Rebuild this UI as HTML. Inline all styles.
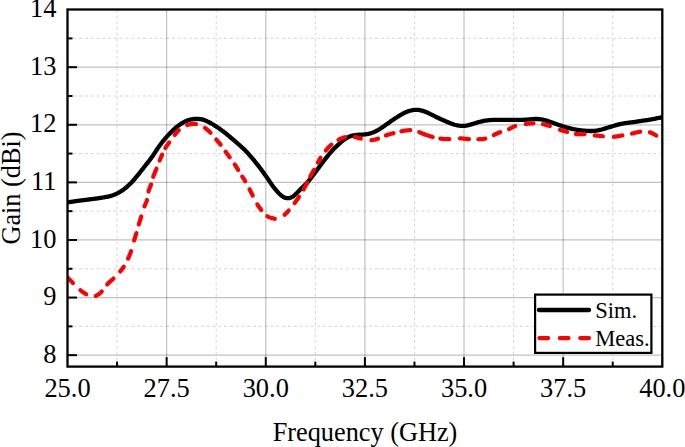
<!DOCTYPE html>
<html><head><meta charset="utf-8"><style>
html,body{margin:0;padding:0;background:#fff;width:685px;height:447px;overflow:hidden}
svg{display:block}
text{font-family:"Liberation Serif",serif;fill:#000}
</style></head><body>
<svg width="685" height="447" viewBox="0 0 685 447">
<g stroke="#d6d6d6" stroke-width="1" stroke-dasharray="3 2.8"><line x1="117.07" y1="9.50" x2="117.07" y2="366.60"/><line x1="216.20" y1="9.50" x2="216.20" y2="366.60"/><line x1="315.33" y1="9.50" x2="315.33" y2="366.60"/><line x1="414.47" y1="9.50" x2="414.47" y2="366.60"/><line x1="513.60" y1="9.50" x2="513.60" y2="366.60"/><line x1="612.73" y1="9.50" x2="612.73" y2="366.60"/><line x1="67.50" y1="326.36" x2="662.30" y2="326.36"/><line x1="67.50" y1="268.77" x2="662.30" y2="268.77"/><line x1="67.50" y1="211.17" x2="662.30" y2="211.17"/><line x1="67.50" y1="153.58" x2="662.30" y2="153.58"/><line x1="67.50" y1="95.99" x2="662.30" y2="95.99"/><line x1="67.50" y1="38.39" x2="662.30" y2="38.39"/></g>
<g stroke="#000" stroke-opacity="0.245" stroke-width="1.2"><line x1="166.63" y1="9.50" x2="166.63" y2="366.60"/><line x1="265.77" y1="9.50" x2="265.77" y2="366.60"/><line x1="364.90" y1="9.50" x2="364.90" y2="366.60"/><line x1="464.03" y1="9.50" x2="464.03" y2="366.60"/><line x1="563.17" y1="9.50" x2="563.17" y2="366.60"/><line x1="67.50" y1="355.16" x2="662.30" y2="355.16"/><line x1="67.50" y1="297.56" x2="662.30" y2="297.56"/><line x1="67.50" y1="239.97" x2="662.30" y2="239.97"/><line x1="67.50" y1="182.38" x2="662.30" y2="182.38"/><line x1="67.50" y1="124.78" x2="662.30" y2="124.78"/><line x1="67.50" y1="67.19" x2="662.30" y2="67.19"/></g>
<defs><clipPath id="pc"><rect x="67.50" y="9.50" width="594.80" height="357.10"/></clipPath></defs>
<g clip-path="url(#pc)">
<path d="M67.40 202.41 L68.39 202.26 L69.38 202.11 L70.37 201.97 L71.35 201.82 L72.34 201.68 L73.33 201.53 L74.32 201.38 L75.31 201.24 L76.29 201.10 L77.28 200.96 L78.27 200.82 L79.26 200.68 L80.25 200.55 L81.24 200.41 L82.23 200.28 L83.22 200.15 L84.21 200.02 L85.20 199.89 L86.19 199.77 L87.18 199.64 L88.17 199.52 L89.17 199.39 L90.16 199.27 L91.15 199.15 L92.14 199.03 L93.13 198.91 L94.12 198.78 L95.11 198.66 L96.10 198.53 L97.09 198.39 L98.08 198.26 L99.07 198.12 L100.06 197.97 L101.05 197.82 L102.04 197.66 L103.03 197.50 L104.01 197.33 L105.00 197.15 L105.98 196.97 L106.96 196.78 L107.94 196.57 L108.91 196.36 L109.88 196.12 L110.84 195.86 L111.79 195.57 L112.73 195.26 L113.67 194.92 L114.60 194.55 L115.51 194.17 L116.42 193.75 L117.32 193.32 L118.21 192.86 L119.08 192.39 L119.95 191.89 L120.81 191.38 L121.65 190.84 L122.48 190.29 L123.30 189.72 L124.11 189.13 L124.90 188.52 L125.68 187.89 L126.44 187.25 L127.19 186.59 L127.94 185.92 L128.67 185.24 L129.39 184.55 L130.10 183.85 L130.80 183.14 L131.50 182.42 L132.18 181.69 L132.86 180.96 L133.53 180.22 L134.19 179.47 L134.85 178.72 L135.50 177.96 L136.14 177.19 L136.78 176.43 L137.41 175.65 L138.04 174.87 L138.66 174.09 L139.28 173.31 L139.90 172.52 L140.51 171.73 L141.12 170.95 L141.74 170.16 L142.35 169.37 L142.97 168.58 L143.59 167.80 L144.20 167.01 L144.82 166.23 L145.45 165.45 L146.07 164.67 L146.69 163.89 L147.31 163.10 L147.93 162.32 L148.54 161.53 L149.15 160.74 L149.76 159.95 L150.36 159.15 L150.95 158.35 L151.54 157.54 L152.12 156.72 L152.69 155.91 L153.25 155.08 L153.81 154.26 L154.37 153.43 L154.91 152.59 L155.46 151.75 L156.00 150.91 L156.54 150.08 L157.09 149.24 L157.64 148.41 L158.20 147.59 L158.78 146.77 L159.36 145.96 L159.95 145.16 L160.55 144.36 L161.15 143.56 L161.76 142.78 L162.38 141.99 L163.00 141.21 L163.63 140.43 L164.26 139.66 L164.90 138.89 L165.55 138.13 L166.21 137.38 L166.87 136.63 L167.54 135.89 L168.21 135.15 L168.90 134.42 L169.59 133.70 L170.28 132.98 L170.98 132.27 L171.69 131.56 L172.40 130.86 L173.12 130.16 L173.85 129.48 L174.59 128.80 L175.34 128.14 L176.10 127.49 L176.86 126.85 L177.64 126.22 L178.43 125.61 L179.24 125.01 L180.05 124.43 L180.88 123.87 L181.72 123.32 L182.57 122.80 L183.43 122.31 L184.31 121.84 L185.21 121.40 L186.12 120.99 L187.04 120.62 L187.98 120.28 L188.93 119.98 L189.89 119.71 L190.86 119.48 L191.84 119.28 L192.83 119.12 L193.82 118.99 L194.82 118.90 L195.81 118.84 L196.81 118.83 L197.81 118.85 L198.80 118.92 L199.78 119.03 L200.76 119.19 L201.73 119.39 L202.70 119.63 L203.65 119.91 L204.59 120.23 L205.52 120.59 L206.44 120.97 L207.35 121.39 L208.25 121.82 L209.14 122.28 L210.02 122.76 L210.90 123.25 L211.77 123.75 L212.63 124.26 L213.49 124.79 L214.34 125.32 L215.19 125.85 L216.03 126.40 L216.86 126.95 L217.70 127.51 L218.52 128.07 L219.35 128.64 L220.16 129.21 L220.98 129.79 L221.79 130.38 L222.59 130.97 L223.39 131.57 L224.18 132.18 L224.97 132.79 L225.75 133.41 L226.53 134.04 L227.30 134.67 L228.07 135.31 L228.84 135.94 L229.60 136.59 L230.37 137.23 L231.13 137.88 L231.89 138.53 L232.65 139.18 L233.41 139.83 L234.16 140.48 L234.92 141.13 L235.68 141.79 L236.43 142.44 L237.19 143.09 L237.94 143.75 L238.70 144.41 L239.45 145.06 L240.20 145.73 L240.94 146.39 L241.69 147.05 L242.43 147.72 L243.16 148.40 L243.88 149.08 L244.60 149.77 L245.30 150.47 L246.00 151.18 L246.68 151.91 L247.35 152.64 L248.01 153.38 L248.67 154.13 L249.32 154.88 L249.97 155.64 L250.62 156.39 L251.27 157.15 L251.92 157.91 L252.57 158.67 L253.21 159.44 L253.85 160.20 L254.49 160.97 L255.12 161.74 L255.76 162.52 L256.39 163.29 L257.01 164.07 L257.63 164.85 L258.25 165.64 L258.86 166.43 L259.47 167.22 L260.07 168.02 L260.67 168.82 L261.26 169.62 L261.85 170.43 L262.43 171.24 L263.01 172.05 L263.60 172.86 L264.18 173.66 L264.76 174.47 L265.35 175.27 L265.93 176.08 L266.51 176.89 L267.08 177.71 L267.64 178.53 L268.20 179.35 L268.75 180.18 L269.31 181.01 L269.86 181.84 L270.42 182.67 L270.99 183.49 L271.56 184.32 L272.14 185.13 L272.73 185.95 L273.32 186.76 L273.93 187.57 L274.56 188.37 L275.19 189.16 L275.84 189.95 L276.50 190.73 L277.18 191.50 L277.87 192.26 L278.58 193.00 L279.30 193.71 L280.05 194.41 L280.81 195.07 L281.59 195.71 L282.39 196.30 L283.21 196.84 L284.05 197.30 L284.91 197.69 L285.79 197.97 L286.69 198.15 L287.60 198.22 L288.51 198.18 L289.42 198.03 L290.31 197.78 L291.19 197.43 L292.04 196.99 L292.86 196.48 L293.66 195.90 L294.44 195.27 L295.20 194.60 L295.94 193.91 L296.68 193.20 L297.40 192.48 L298.11 191.74 L298.82 191.01 L299.53 190.28 L300.24 189.55 L300.96 188.83 L301.68 188.12 L302.40 187.42 L303.13 186.72 L303.85 186.02 L304.56 185.33 L305.27 184.62 L305.97 183.92 L306.66 183.20 L307.34 182.46 L308.00 181.72 L308.64 180.97 L309.28 180.20 L309.91 179.43 L310.53 178.65 L311.14 177.86 L311.74 177.07 L312.35 176.27 L312.94 175.47 L313.54 174.67 L314.14 173.87 L314.73 173.06 L315.32 172.26 L315.91 171.45 L316.50 170.65 L317.10 169.84 L317.69 169.04 L318.28 168.23 L318.87 167.43 L319.47 166.63 L320.07 165.83 L320.67 165.03 L321.27 164.23 L321.87 163.43 L322.48 162.64 L323.08 161.84 L323.69 161.05 L324.30 160.25 L324.91 159.46 L325.52 158.67 L326.13 157.88 L326.75 157.10 L327.37 156.32 L327.99 155.54 L328.62 154.76 L329.26 153.99 L329.91 153.23 L330.56 152.48 L331.22 151.73 L331.89 150.99 L332.57 150.26 L333.25 149.53 L333.95 148.82 L334.65 148.10 L335.36 147.40 L336.08 146.70 L336.80 146.01 L337.53 145.33 L338.27 144.64 L339.01 143.97 L339.76 143.29 L340.51 142.63 L341.26 141.96 L342.02 141.31 L342.79 140.67 L343.58 140.05 L344.38 139.45 L345.19 138.88 L346.02 138.34 L346.87 137.83 L347.74 137.36 L348.63 136.93 L349.54 136.55 L350.46 136.20 L351.40 135.90 L352.35 135.65 L353.32 135.43 L354.30 135.25 L355.28 135.11 L356.27 134.99 L357.27 134.90 L358.27 134.83 L359.27 134.77 L360.27 134.72 L361.28 134.66 L362.28 134.60 L363.28 134.53 L364.27 134.44 L365.27 134.33 L366.26 134.19 L367.24 134.02 L368.21 133.83 L369.18 133.61 L370.15 133.35 L371.10 133.07 L372.04 132.76 L372.98 132.42 L373.90 132.05 L374.82 131.66 L375.72 131.24 L376.61 130.79 L377.48 130.31 L378.35 129.82 L379.21 129.31 L380.06 128.78 L380.90 128.24 L381.73 127.69 L382.56 127.12 L383.39 126.56 L384.21 125.99 L385.03 125.41 L385.85 124.84 L386.66 124.26 L387.48 123.68 L388.30 123.11 L389.11 122.53 L389.93 121.96 L390.75 121.38 L391.57 120.81 L392.39 120.24 L393.21 119.68 L394.04 119.12 L394.87 118.56 L395.71 118.02 L396.55 117.48 L397.39 116.94 L398.24 116.41 L399.09 115.88 L399.94 115.36 L400.80 114.85 L401.66 114.34 L402.54 113.85 L403.42 113.38 L404.31 112.92 L405.21 112.49 L406.12 112.08 L407.05 111.71 L407.98 111.36 L408.93 111.04 L409.89 110.75 L410.85 110.50 L411.82 110.29 L412.80 110.11 L413.79 109.98 L414.78 109.88 L415.76 109.84 L416.75 109.84 L417.74 109.88 L418.73 109.98 L419.71 110.13 L420.68 110.31 L421.65 110.54 L422.61 110.80 L423.56 111.10 L424.50 111.42 L425.44 111.78 L426.37 112.16 L427.28 112.56 L428.20 112.98 L429.10 113.41 L430.00 113.85 L430.90 114.30 L431.79 114.75 L432.68 115.21 L433.57 115.67 L434.46 116.12 L435.36 116.57 L436.25 117.02 L437.15 117.46 L438.05 117.89 L438.95 118.31 L439.86 118.73 L440.77 119.14 L441.68 119.54 L442.60 119.94 L443.52 120.34 L444.43 120.74 L445.35 121.14 L446.27 121.53 L447.19 121.93 L448.11 122.32 L449.03 122.71 L449.96 123.09 L450.89 123.46 L451.82 123.81 L452.77 124.15 L453.72 124.46 L454.67 124.74 L455.64 125.00 L456.61 125.23 L457.59 125.43 L458.57 125.59 L459.55 125.73 L460.54 125.83 L461.52 125.90 L462.51 125.92 L463.50 125.90 L464.48 125.83 L465.47 125.72 L466.45 125.58 L467.42 125.39 L468.39 125.17 L469.36 124.93 L470.32 124.66 L471.28 124.38 L472.24 124.09 L473.20 123.79 L474.16 123.49 L475.11 123.19 L476.07 122.89 L477.03 122.60 L477.99 122.31 L478.95 122.04 L479.92 121.78 L480.89 121.54 L481.86 121.31 L482.83 121.10 L483.81 120.90 L484.79 120.73 L485.78 120.57 L486.76 120.43 L487.75 120.31 L488.75 120.21 L489.74 120.12 L490.73 120.05 L491.73 119.98 L492.73 119.93 L493.73 119.89 L494.73 119.86 L495.73 119.83 L496.72 119.81 L497.72 119.80 L498.72 119.79 L499.72 119.78 L500.72 119.78 L501.72 119.78 L502.72 119.78 L503.72 119.79 L504.72 119.80 L505.72 119.81 L506.72 119.82 L507.72 119.83 L508.71 119.85 L509.71 119.86 L510.71 119.87 L511.71 119.89 L512.71 119.90 L513.71 119.91 L514.71 119.92 L515.71 119.92 L516.70 119.93 L517.70 119.92 L518.70 119.92 L519.70 119.91 L520.70 119.89 L521.70 119.86 L522.70 119.83 L523.69 119.79 L524.69 119.74 L525.69 119.68 L526.69 119.61 L527.69 119.54 L528.68 119.46 L529.68 119.37 L530.68 119.28 L531.67 119.20 L532.67 119.13 L533.67 119.06 L534.66 119.01 L535.66 118.99 L536.65 118.98 L537.64 119.01 L538.63 119.06 L539.62 119.15 L540.60 119.28 L541.58 119.44 L542.56 119.62 L543.53 119.84 L544.49 120.08 L545.46 120.34 L546.42 120.62 L547.37 120.92 L548.32 121.23 L549.27 121.55 L550.21 121.87 L551.16 122.21 L552.10 122.55 L553.04 122.89 L553.98 123.23 L554.92 123.57 L555.86 123.91 L556.80 124.25 L557.75 124.58 L558.69 124.91 L559.63 125.24 L560.58 125.56 L561.53 125.88 L562.48 126.19 L563.43 126.49 L564.38 126.79 L565.34 127.08 L566.29 127.37 L567.25 127.64 L568.22 127.91 L569.18 128.17 L570.15 128.41 L571.12 128.64 L572.09 128.86 L573.07 129.07 L574.05 129.26 L575.03 129.44 L576.01 129.61 L577.00 129.77 L577.99 129.92 L578.98 130.06 L579.97 130.18 L580.96 130.30 L581.96 130.42 L582.95 130.52 L583.95 130.62 L584.95 130.71 L585.94 130.79 L586.94 130.87 L587.94 130.93 L588.94 130.97 L589.94 131.00 L590.93 131.01 L591.93 131.00 L592.92 130.96 L593.92 130.90 L594.91 130.81 L595.89 130.69 L596.88 130.55 L597.86 130.38 L598.83 130.18 L599.80 129.96 L600.77 129.72 L601.74 129.47 L602.70 129.20 L603.66 128.92 L604.62 128.64 L605.58 128.36 L606.54 128.06 L607.49 127.77 L608.45 127.47 L609.40 127.17 L610.36 126.87 L611.31 126.58 L612.27 126.28 L613.22 125.99 L614.18 125.70 L615.14 125.42 L616.10 125.15 L617.06 124.89 L618.03 124.63 L619.00 124.39 L619.97 124.16 L620.94 123.94 L621.92 123.74 L622.90 123.55 L623.88 123.38 L624.86 123.22 L625.85 123.08 L626.84 122.94 L627.83 122.81 L628.82 122.69 L629.81 122.56 L630.80 122.44 L631.79 122.32 L632.78 122.19 L633.77 122.06 L634.76 121.92 L635.75 121.77 L636.74 121.62 L637.73 121.47 L638.71 121.32 L639.70 121.17 L640.68 121.01 L641.67 120.87 L642.66 120.72 L643.65 120.58 L644.63 120.45 L645.62 120.31 L646.61 120.18 L647.60 120.03 L648.58 119.88 L649.56 119.71 L650.55 119.54 L651.53 119.36 L652.51 119.18 L653.49 118.99 L654.47 118.80 L655.45 118.60 L656.43 118.40 L657.41 118.20 L658.39 118.00 L659.36 117.80 L660.34 117.60 L661.32 117.40 L662.30 117.20" fill="none" stroke="#000" stroke-width="4.30" stroke-linejoin="round" stroke-linecap="round"/>
<g fill="none" stroke="#ff0000" stroke-width="4.20" stroke-linejoin="round" stroke-linecap="round"><path d="M67.40 277.50 L67.86 277.95 L68.32 278.39 L68.78 278.84 L69.24 279.29 L69.70 279.74 L70.16 280.19 L70.62 280.64 L71.08 281.09 L71.53 281.54 L71.99 282.00 L72.44 282.45 L72.89 282.91"/><path d="M80.41 290.19 L80.90 290.59 L81.41 290.98 L81.92 291.37 L82.43 291.75 L82.95 292.13 L83.48 292.50 L84.01 292.86 L84.55 293.22 L85.09 293.58 L85.64 293.93 L86.19 294.28"/><path d="M95.77 295.82 L96.39 295.56 L97.00 295.26 L97.59 294.94 L98.17 294.59 L98.74 294.21 L99.28 293.81 L99.81 293.38 L100.33 292.94 L100.83 292.47 L101.31 291.99 L101.77 291.50"/><path d="M107.24 284.43 L107.68 283.95 L108.13 283.47 L108.59 283.01 L109.06 282.55 L109.54 282.10 L110.03 281.65 L110.52 281.21 L111.01 280.78 L111.51 280.34 L112.00 279.90 L112.50 279.47 L112.99 279.03 L113.48 278.58"/><path d="M120.21 271.41 L120.63 270.90 L121.05 270.39 L121.46 269.87 L121.86 269.36 L122.26 268.83 L122.66 268.31 L123.04 267.77 L123.42 267.24 L123.79 266.69"/><path d="M128.11 258.61 L128.38 258.00 L128.65 257.39 L128.92 256.78 L129.18 256.16 L129.44 255.55 L129.70 254.93 L129.94 254.32 L130.19 253.70 L130.42 253.08 L130.65 252.45 L130.87 251.83 L131.09 251.20"/><path d="M134.11 240.50 L134.30 239.88 L134.48 239.27 L134.67 238.65 L134.86 238.03 L135.05 237.41 L135.25 236.80 L135.44 236.18 L135.63 235.57 L135.82 234.95 L136.01 234.33 L136.20 233.71 L136.39 233.10"/><path d="M138.81 224.40 L139.01 223.73 L139.21 223.07 L139.42 222.40 L139.63 221.73 L139.84 221.07 L140.05 220.40 L140.26 219.73 L140.47 219.07 L140.68 218.40 L140.88 217.73 L141.08 217.06 L141.28 216.39"/><path d="M144.45 206.32 L144.72 205.68 L144.99 205.05 L145.28 204.43 L145.56 203.80 L145.83 203.17 L146.10 202.54 L146.36 201.91 L146.60 201.27 L146.82 200.63 L147.02 199.98"/><path d="M148.48 191.52 L148.66 190.88 L148.86 190.24 L149.08 189.61 L149.31 188.98 L149.56 188.35 L149.81 187.72 L150.06 187.10 L150.32 186.47 L150.57 185.85 L150.81 185.22 L151.04 184.58"/><path d="M153.24 176.81 L153.45 176.18 L153.67 175.54 L153.90 174.91 L154.14 174.29 L154.39 173.66 L154.65 173.04 L154.91 172.42 L155.17 171.80 L155.43 171.18 L155.70 170.56 L155.96 169.94 L156.22 169.31 L156.48 168.69"/><path d="M159.62 160.51 L159.86 159.91 L160.11 159.32 L160.36 158.72 L160.62 158.13 L160.87 157.54 L161.13 156.95 L161.40 156.36 L161.66 155.77 L161.92 155.18 L162.18 154.59"/><path d="M165.33 148.02 L165.68 147.45 L166.04 146.88 L166.42 146.32 L166.80 145.76 L167.19 145.21 L167.58 144.67 L167.98 144.12 L168.38 143.58 L168.78 143.03 L169.17 142.48"/><path d="M174.60 134.90 L175.03 134.36 L175.47 133.82 L175.92 133.29 L176.38 132.77 L176.84 132.26 L177.32 131.75 L177.80 131.26 L178.30 130.77 L178.81 130.30"/><path d="M187.21 125.10 L187.86 124.87 L188.52 124.66 L189.19 124.48 L189.86 124.32 L190.54 124.18 L191.22 124.06 L191.91 123.97 L192.59 123.91 L193.28 123.88 L193.96 123.87 L194.64 123.89 L195.32 123.94 L195.99 124.02"/><path d="M205.00 127.99 L205.54 128.37 L206.07 128.77 L206.60 129.17 L207.11 129.59 L207.62 130.01 L208.12 130.44 L208.61 130.87 L209.09 131.32 L209.57 131.78 L210.03 132.24 L210.49 132.71"/><path d="M216.22 139.48 L216.67 140.01 L217.12 140.53 L217.57 141.05 L218.02 141.56 L218.47 142.08 L218.92 142.60 L219.37 143.12 L219.81 143.65 L220.25 144.18 L220.68 144.72"/><path d="M225.61 151.69 L226.01 152.26 L226.42 152.82 L226.82 153.39 L227.23 153.95 L227.64 154.51 L228.05 155.07 L228.46 155.63 L228.87 156.18 L229.29 156.74 L229.70 157.30"/><path d="M234.70 164.40 L235.06 164.96 L235.42 165.51 L235.77 166.07 L236.12 166.62 L236.48 167.18 L236.82 167.74 L237.17 168.31 L237.51 168.87 L237.86 169.44 L238.20 170.00"/><path d="M242.22 176.59 L242.56 177.11 L242.90 177.64 L243.25 178.16 L243.59 178.68 L243.94 179.20 L244.28 179.73 L244.62 180.25 L244.95 180.78 L245.28 181.31"/><path d="M249.51 189.29 L249.83 189.91 L250.15 190.54 L250.47 191.16 L250.79 191.78 L251.11 192.40 L251.42 193.02 L251.74 193.64 L252.06 194.26 L252.38 194.88 L252.69 195.51"/><path d="M257.31 204.39 L257.68 204.97 L258.05 205.54 L258.43 206.11 L258.82 206.68 L259.22 207.24 L259.62 207.80 L260.03 208.36 L260.44 208.92 L260.86 209.47 L261.28 210.03"/><path d="M267.33 216.25 L267.89 216.57 L268.46 216.86 L269.05 217.12 L269.66 217.37 L270.28 217.59 L270.90 217.79 L271.54 217.98 L272.19 218.15 L272.84 218.31 L273.50 218.46 L274.15 218.61 L274.81 218.75"/><path d="M284.63 214.80 L285.09 214.32 L285.55 213.84 L286.01 213.37 L286.47 212.91 L286.92 212.44 L287.37 211.98 L287.82 211.52 L288.25 211.05 L288.69 210.57"/><path d="M294.61 203.01 L295.03 202.45 L295.44 201.89 L295.85 201.33 L296.27 200.77 L296.68 200.20 L297.09 199.64 L297.50 199.08 L297.90 198.51 L298.30 197.94 L298.70 197.37 L299.09 196.79"/><path d="M303.60 189.40 L303.94 188.79 L304.28 188.18 L304.62 187.57 L304.95 186.95 L305.28 186.33 L305.61 185.71 L305.93 185.09 L306.25 184.47 L306.57 183.85 L306.88 183.22 L307.19 182.59"/><path d="M310.22 176.41 L310.55 175.82 L310.88 175.23 L311.22 174.65 L311.56 174.06 L311.91 173.48 L312.26 172.90 L312.60 172.32 L312.95 171.74 L313.30 171.16 L313.64 170.58 L313.98 169.99"/><path d="M317.90 162.60 L318.21 161.99 L318.52 161.38 L318.84 160.78 L319.16 160.18 L319.49 159.58 L319.82 158.98 L320.16 158.39 L320.51 157.81"/><path d="M325.79 150.49 L326.23 149.97 L326.67 149.45 L327.11 148.94 L327.56 148.43 L328.02 147.93 L328.48 147.43 L328.95 146.94 L329.43 146.46 L329.91 145.98 L330.40 145.51 L330.90 145.05 L331.41 144.61"/><path d="M338.50 139.79 L339.07 139.49 L339.65 139.20 L340.24 138.92 L340.83 138.66 L341.43 138.40 L342.03 138.16 L342.63 137.94 L343.25 137.73 L343.86 137.54 L344.48 137.37 L345.11 137.22"/><path d="M354.99 137.11 L355.65 137.24 L356.30 137.37 L356.95 137.52 L357.59 137.69 L358.24 137.86 L358.88 138.04 L359.52 138.23 L360.16 138.42 L360.80 138.62"/><path d="M371.49 140.20 L372.16 140.12 L372.82 140.03 L373.48 139.92 L374.13 139.79 L374.79 139.64 L375.44 139.48 L376.08 139.30 L376.72 139.11 L377.36 138.91 L377.99 138.69"/><path d="M385.91 135.43 L386.53 135.20 L387.15 134.99 L387.78 134.78 L388.40 134.58 L389.04 134.39 L389.67 134.21 L390.30 134.03 L390.94 133.85 L391.58 133.68 L392.22 133.52 L392.86 133.35 L393.50 133.19"/><path d="M401.40 131.30 L402.07 131.16 L402.74 131.03 L403.42 130.90 L404.09 130.78 L404.77 130.67 L405.45 130.57 L406.12 130.48 L406.80 130.40 L407.48 130.33 L408.16 130.27 L408.84 130.23 L409.53 130.20 L410.21 130.19"/><path d="M419.21 132.16 L419.84 132.42 L420.48 132.67 L421.11 132.93 L421.75 133.19 L422.38 133.44 L423.02 133.69 L423.66 133.94 L424.30 134.19 L424.93 134.43 L425.57 134.67 L426.21 134.91 L426.86 135.14 L427.50 135.37 L428.14 135.59 L428.79 135.81 L429.44 136.02 L430.09 136.23 L430.74 136.43 L431.39 136.62 L432.05 136.81 L432.70 137.00"/><path d="M440.30 138.59 L440.99 138.68 L441.68 138.75 L442.37 138.82 L443.06 138.88 L443.75 138.94 L444.44 138.98 L445.13 139.02 L445.83 139.05 L446.52 139.07 L447.22 139.09 L447.91 139.10 L448.60 139.11 L449.30 139.12"/><path d="M460.00 138.47 L460.69 138.46 L461.38 138.47 L462.07 138.49 L462.77 138.54 L463.46 138.59 L464.15 138.66 L464.84 138.73 L465.53 138.81 L466.23 138.89 L466.92 138.96 L467.61 139.04 L468.31 139.11 L469.00 139.17"/><path d="M478.31 139.23 L478.95 139.22 L479.59 139.20 L480.23 139.18 L480.87 139.16 L481.51 139.13 L482.15 139.09 L482.78 139.04 L483.42 138.97 L484.05 138.89 L484.68 138.79 L485.30 138.67"/><path d="M493.81 135.03 L494.43 134.70 L495.04 134.39 L495.66 134.08 L496.28 133.79 L496.91 133.50 L497.54 133.23 L498.18 132.96 L498.82 132.71 L499.46 132.47 L500.11 132.24"/><path d="M509.08 129.07 L509.69 128.76 L510.29 128.45 L510.89 128.13 L511.48 127.81 L512.08 127.49 L512.68 127.17 L513.28 126.87 L513.89 126.58 L514.50 126.31 L515.13 126.06"/><path d="M525.70 123.99 L526.35 123.91 L527.00 123.83 L527.65 123.76 L528.30 123.69 L528.95 123.62 L529.60 123.56 L530.25 123.50 L530.90 123.45 L531.55 123.40 L532.20 123.36 L532.85 123.32 L533.50 123.30"/><path d="M543.00 124.18 L543.64 124.32 L544.27 124.47 L544.90 124.62 L545.53 124.77 L546.16 124.93 L546.79 125.10 L547.41 125.27 L548.04 125.44 L548.66 125.62 L549.28 125.81 L549.90 126.00"/><path d="M560.01 129.86 L560.65 130.08 L561.30 130.29 L561.95 130.49 L562.60 130.68 L563.25 130.86 L563.91 131.04 L564.56 131.22 L565.22 131.40 L565.88 131.57 L566.53 131.75 L567.19 131.94"/><path d="M575.70 134.04 L576.38 134.10 L577.06 134.14 L577.74 134.16 L578.42 134.16 L579.11 134.15 L579.79 134.13 L580.48 134.11 L581.17 134.09 L581.85 134.06 L582.54 134.04 L583.23 134.03 L583.91 134.03 L584.60 134.05"/><path d="M594.70 135.38 L595.38 135.47 L596.06 135.55 L596.75 135.63 L597.43 135.70 L598.11 135.77 L598.79 135.84 L599.48 135.90 L600.16 135.97 L600.85 136.03 L601.53 136.09 L602.21 136.15 L602.90 136.22"/><path d="M613.80 136.77 L614.46 136.71 L615.13 136.63 L615.79 136.55 L616.45 136.45 L617.12 136.34 L617.78 136.22 L618.44 136.10 L619.10 135.97 L619.76 135.84 L620.42 135.71 L621.08 135.58 L621.74 135.46 L622.40 135.34"/><path d="M632.00 133.58 L632.63 133.43 L633.26 133.27 L633.88 133.11 L634.51 132.94 L635.14 132.78 L635.77 132.62 L636.40 132.47 L637.03 132.32 L637.66 132.18 L638.30 132.04 L638.93 131.92 L639.57 131.81 L640.21 131.71"/><path d="M649.88 132.34 L650.49 132.55 L651.09 132.78 L651.68 133.04 L652.26 133.31 L652.84 133.60 L653.41 133.91 L653.98 134.23 L654.54 134.55 L655.10 134.89 L655.65 135.23 L656.20 135.58"/></g></g>
<g stroke="#000" stroke-width="2"><line x1="166.63" y1="366.60" x2="166.63" y2="357.10"/><line x1="265.77" y1="366.60" x2="265.77" y2="357.10"/><line x1="364.90" y1="366.60" x2="364.90" y2="357.10"/><line x1="464.03" y1="366.60" x2="464.03" y2="357.10"/><line x1="563.17" y1="366.60" x2="563.17" y2="357.10"/><line x1="117.07" y1="366.60" x2="117.07" y2="361.60"/><line x1="216.20" y1="366.60" x2="216.20" y2="361.60"/><line x1="315.33" y1="366.60" x2="315.33" y2="361.60"/><line x1="414.47" y1="366.60" x2="414.47" y2="361.60"/><line x1="513.60" y1="366.60" x2="513.60" y2="361.60"/><line x1="612.73" y1="366.60" x2="612.73" y2="361.60"/><line x1="67.50" y1="355.16" x2="77.00" y2="355.16"/><line x1="67.50" y1="297.56" x2="77.00" y2="297.56"/><line x1="67.50" y1="239.97" x2="77.00" y2="239.97"/><line x1="67.50" y1="182.38" x2="77.00" y2="182.38"/><line x1="67.50" y1="124.78" x2="77.00" y2="124.78"/><line x1="67.50" y1="67.19" x2="77.00" y2="67.19"/><line x1="67.50" y1="326.36" x2="72.50" y2="326.36"/><line x1="67.50" y1="268.77" x2="72.50" y2="268.77"/><line x1="67.50" y1="211.17" x2="72.50" y2="211.17"/><line x1="67.50" y1="153.58" x2="72.50" y2="153.58"/><line x1="67.50" y1="95.99" x2="72.50" y2="95.99"/><line x1="67.50" y1="38.39" x2="72.50" y2="38.39"/></g>
<rect x="67.50" y="9.50" width="594.80" height="357.10" fill="none" stroke="#000" stroke-width="2.3"/>
<g font-size="26.40"><text transform="translate(56.50 362.76) scale(1 1.000)" text-anchor="end">8</text><text transform="translate(56.50 305.16) scale(1 1.000)" text-anchor="end">9</text><text transform="translate(56.50 247.57) scale(1 1.000)" text-anchor="end">10</text><text transform="translate(56.50 189.98) scale(1 1.000)" text-anchor="end">11</text><text transform="translate(56.50 132.38) scale(1 1.000)" text-anchor="end">12</text><text transform="translate(56.50 74.79) scale(1 1.000)" text-anchor="end">13</text><text transform="translate(56.50 17.20) scale(1 1.000)" text-anchor="end">14</text><text transform="translate(67.50 396.80) scale(1 1.000)" text-anchor="middle">25.0</text><text transform="translate(166.63 396.80) scale(1 1.000)" text-anchor="middle">27.5</text><text transform="translate(265.77 396.80) scale(1 1.000)" text-anchor="middle">30.0</text><text transform="translate(364.90 396.80) scale(1 1.000)" text-anchor="middle">32.5</text><text transform="translate(464.03 396.80) scale(1 1.000)" text-anchor="middle">35.0</text><text transform="translate(563.17 396.80) scale(1 1.000)" text-anchor="middle">37.5</text><text transform="translate(662.30 396.80) scale(1 1.000)" text-anchor="middle">40.0</text></g>
<text transform="translate(365.00 440.50) scale(1 1.000)" font-size="26.30" text-anchor="middle">Frequency (GHz)</text>
<text transform="translate(19.60 188.00) rotate(-90) scale(1 1.000)" font-size="26.30" text-anchor="middle">Gain (dBi)</text>
<rect x="535.1" y="294.6" width="116.3" height="58.3" fill="#fff" stroke="#000" stroke-width="2.2"/>
<line x1="539" y1="310" x2="589" y2="310" stroke="#000" stroke-width="4.30" stroke-linecap="round"/>
<line x1="539.4" y1="338.1" x2="589.4" y2="338.1" stroke="#f00" stroke-width="4.20" stroke-linecap="round" stroke-dasharray="8.8 11.6"/>
<text transform="translate(595.20 317.8) scale(1 1.000)" font-size="22.50">Sim.</text>
<text transform="translate(595.20 345.5) scale(1 1.000)" font-size="22.50">Meas.</text>
</svg>
</body></html>
